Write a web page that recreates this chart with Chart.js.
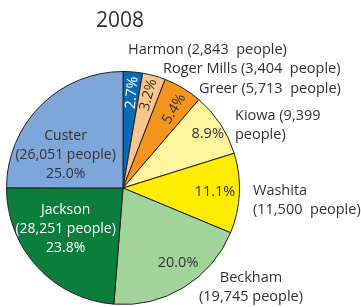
<!DOCTYPE html>
<html>
<head>
<meta charset="utf-8">
<script src="https://cdn.jsdelivr.net/npm/chart.js@4"></script>
<style>
  html, body { margin: 0; padding: 0; background: #fff; }
  #wrap { width: 361px; height: 307px; }
</style>
</head>
<body>
<div id="wrap"><canvas id="pie"></canvas></div>
<script>
const year = "2008";
const counties = ["Harmon", "Roger Mills", "Greer", "Kiowa", "Washita", "Beckham", "Jackson", "Custer"];
const people = ["2,843", "3,404", "5,713", "9,399", "11,500", "19,745", "28,251", "26,051"];
const shares = [2.7, 3.2, 5.4, 8.9, 11.1, 20.0, 23.8, 25.0];
const colors = ["#0a6bb5", "#fcc58a", "#f7941e", "#fff59e", "#ffec00", "#a2d39b", "#0b7e3e", "#7ea6d9"];

const FONT = '"Open Sans", sans-serif';
const DARK = "#333333";

// how each slice gets labelled: pct inside (rotated / flat / block), plus optional outside text
const labelStyle = [
    { pct: "rot", r: 0.82, shift: [1, 0], color: "#ffffff", out: [["Harmon (2,843  people)"], 5, -138, "left"] },
    { pct: "rot", r: 0.82, shift: [0, -1], color: DARK, out: [["Roger Mills (3,404  people)"], 40, -119, "left"] },
    { pct: "rot", r: 0.82, shift: [2, 3], color: DARK, out: [["Greer (5,713  people)"], 76, -99, "left"] },
    { pct: "flat", r: 0.86, shift: [1, 1], color: DARK, out: [["Kiowa (9,399", "people)"], 112, -72, "left"] },
    { pct: "flat", r: 0.79, shift: [0, 0], color: DARK, out: [["Washita", "(11,500  people)"], 130, 3, "left"] },
    { pct: "flat", r: 0.79, shift: [7, -4], color: DARK, out: [["Beckham", "(19,745 people)"], 128, 90, "center"] },
    { pct: "block", r: 0.60, shift: [-6, -6], color: "#ffffff" },
    { pct: "block", r: 0.60, shift: [-8, 16], color: DARK }
];

const labelPlugin = {
    id: "labels",
    afterDatasetsDraw(chart) {
        const ctx = chart.ctx;
        const arcs = chart.getDatasetMeta(0).data;
        const cx = arcs[0].x, cy = arcs[0].y, R = arcs[0].outerRadius;

        ctx.save();
        ctx.textBaseline = "middle";

        // title
        ctx.fillStyle = DARK;
        ctx.font = "21px " + FONT;
        ctx.textAlign = "center";
        ctx.fillText(year, cx - 3, cy - 167);

        arcs.forEach((arc, i) => {
            const st = labelStyle[i];
            const mid = (arc.startAngle + arc.endAngle) / 2;
            const x = cx + Math.cos(mid) * R * st.r + st.shift[0];
            const y = cy + Math.sin(mid) * R * st.r + st.shift[1];
            const pct = shares[i].toFixed(1) + "%";
            ctx.font = "14.5px " + FONT;
            ctx.fillStyle = st.color;
            ctx.textAlign = "center";
            if (st.pct === "rot") {
                ctx.save();
                ctx.translate(x, y);
                ctx.rotate(mid);
                ctx.fillText(pct, 0, 0);
                ctx.restore();
            } else if (st.pct === "flat") {
                ctx.fillText(pct, x, y);
            } else {
                ctx.font = "14px " + FONT;
                const lines = [counties[i], "(" + people[i] + " people)", pct];
                lines.forEach((t, k) => ctx.fillText(t, x, y + (k - 1) * 19));
            }
            if (st.out) {
                const [lines, dx, dy, align] = st.out;
                ctx.font = "14.5px " + FONT;
                ctx.fillStyle = DARK;
                ctx.textAlign = align;
                lines.forEach((t, k) => ctx.fillText(t, cx + dx, cy + dy + k * 19));
            }
        });
        ctx.restore();
    }
};

new Chart(document.getElementById("pie"), {
    type: "pie",
    data: {
        labels: counties,
        datasets: [{
            data: shares,
            backgroundColor: colors,
            borderColor: "#222222",
            borderWidth: 1
        }]
    },
    options: {
        responsive: true,
        maintainAspectRatio: false,
        animation: false,
        layout: { padding: { left: 6, top: 71, right: 121, bottom: 2 } },
        plugins: { legend: { display: false }, tooltip: { enabled: false } }
    },
    plugins: [labelPlugin]
});
</script>
</body>
</html>
